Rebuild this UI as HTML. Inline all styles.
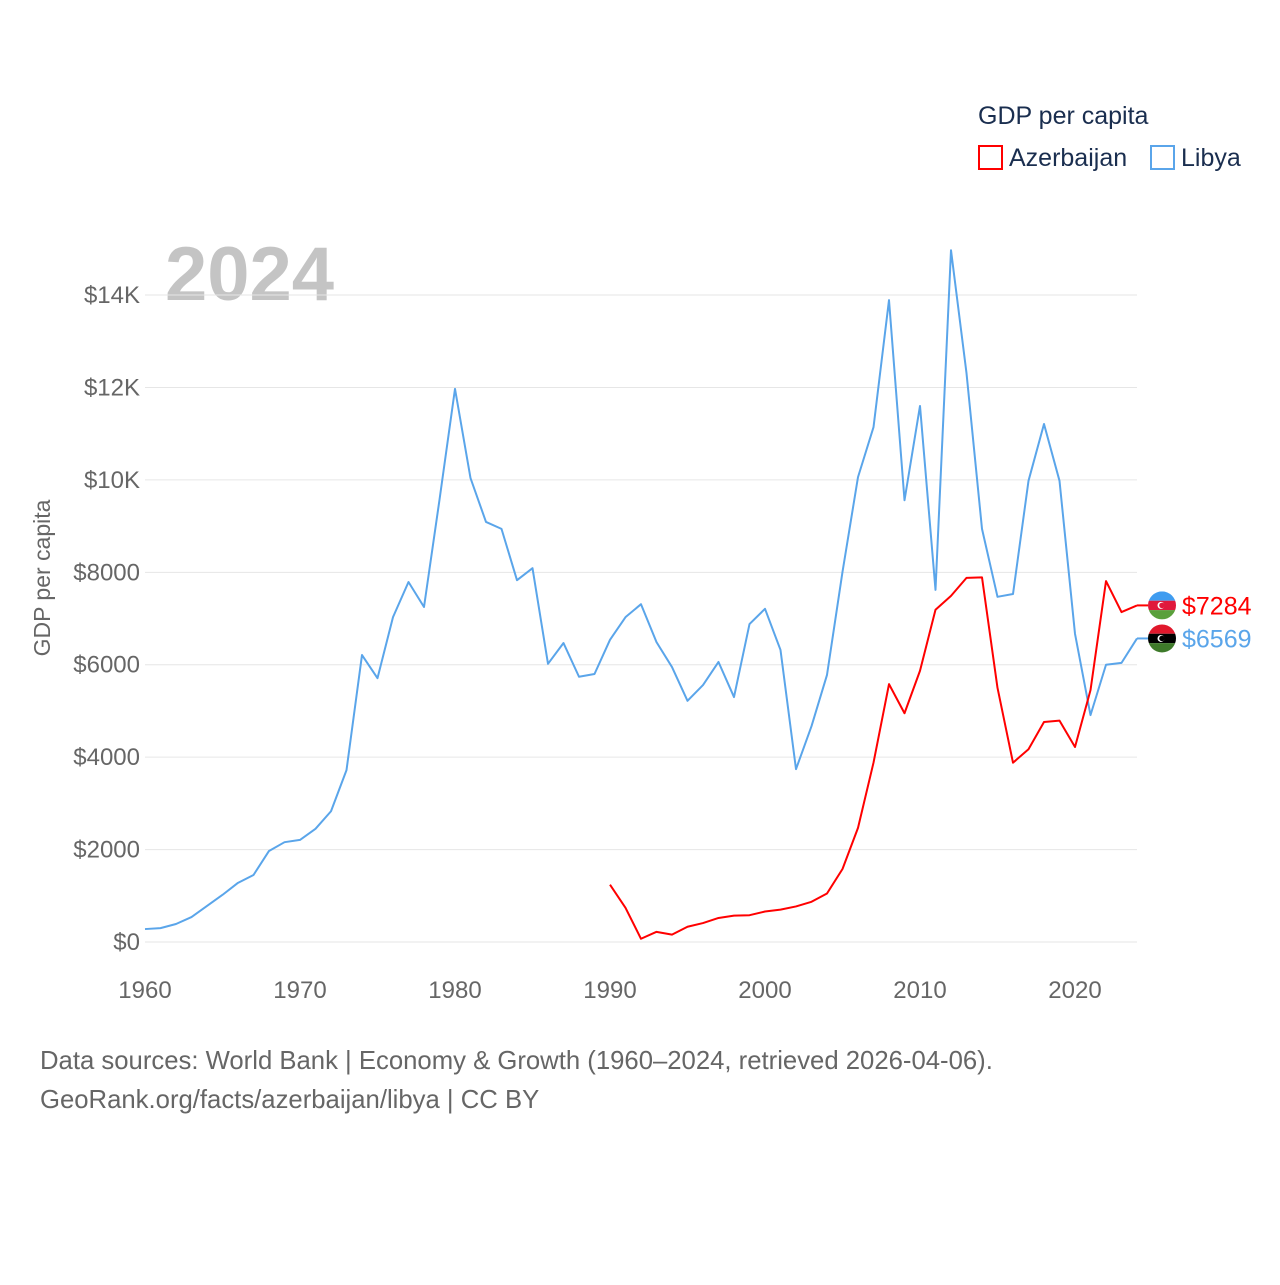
<!DOCTYPE html>
<html><head><meta charset="utf-8"><style>
body{margin:0;background:#fff;font-family:"Liberation Sans",sans-serif}
svg text{font-family:"Liberation Sans",sans-serif}
</style></head><body>
<svg id="c" width="1280" height="1280" viewBox="0 0 1280 1280">
<text x="978" y="124" font-size="25" fill="#1a2e4f">GDP per capita</text>
<rect x="979" y="146" width="23" height="23" fill="none" stroke="#f00" stroke-width="2"/>
<text x="1009" y="166" font-size="25" fill="#1a2e4f">Azerbaijan</text>
<rect x="1151" y="146" width="23" height="23" fill="none" stroke="#5aa5ea" stroke-width="2"/>
<text x="1181" y="166" font-size="25" fill="#1a2e4f">Libya</text>
<text x="165" y="300" font-size="76" font-weight="bold" fill="#c4c4c4">2024</text>
<text transform="translate(50,578) rotate(-90)" text-anchor="middle" font-size="23" fill="#666">GDP per capita</text>
<g id="grid"></g><g id="series"></g>
<text x="40" y="1069" font-size="25.7" fill="#666">Data sources: World Bank | Economy &amp; Growth (1960–2024, retrieved 2026-04-06).</text>
<text x="40" y="1108" font-size="25.7" fill="#666">GeoRank.org/facts/azerbaijan/libya | CC BY</text>
</svg>
<script>
const libyaYears=[];for(let y=1960;y<=2024;y++)libyaYears.push(y);
const libyaValues=[280,300,390,540,780,1020,1280,1450,1970,2160,2210,2450,2830,3720,6210,5710,7030,7790,7250,9570,11970,10040,9090,8940,7830,8090,6020,6470,5740,5800,6540,7030,7310,6490,5950,5220,5560,6060,5300,6880,7210,6320,3740,4670,5780,8010,10060,11140,13890,9560,11600,7620,14970,12310,8940,7470,7530,9980,11210,9980,6670,4910,6000,6040,6569];
const azYears=[];for(let y=1990;y<=2024;y++)azYears.push(y);
const azValues=[1240,740,70,220,160,330,410,520,570,580,660,700,770,870,1050,1580,2470,3880,5580,4950,5870,7190,7490,7880,7890,5500,3880,4170,4760,4790,4220,5450,7810,7140,7284];
const yTicks=[0,2000,4000,6000,8000,10000,12000,14000];
const yTickLabels=["$0","$2000","$4000","$6000","$8000","$10K","$12K","$14K"];
const xTicks=[1960,1970,1980,1990,2000,2010,2020];
const NS="http://www.w3.org/2000/svg";
const xs=y=>145+(y-1960)*15.5;
const ys=v=>942-v*0.04621;
function mk(tag,attrs,parent){const e=document.createElementNS(NS,tag);for(const k in attrs)e.setAttribute(k,attrs[k]);parent.appendChild(e);return e;}
const grid=document.getElementById('grid'),ser=document.getElementById('series');
yTicks.forEach((t,i)=>{
 const l=mk('line',{x1:145,x2:1137,y1:ys(t),y2:ys(t),stroke:'#e6e6e6','stroke-width':1},grid);
 
 
 const tx=mk('text',{x:140,y:ys(t)+8,'text-anchor':'end','font-size':24,fill:'#666'},grid);
 tx.textContent=yTickLabels[i];
 
 
});
xTicks.forEach(t=>{
 const tx=mk('text',{x:xs(t),y:998,'text-anchor':'middle','font-size':24,fill:'#666'},grid);
 tx.textContent=t;
 
 
});
function line(years,vals,color,name){
 const p=mk('polyline',{points:years.map((y,i)=>xs(y)+','+ys(vals[i])).join(' '),fill:'none',stroke:color,'stroke-width':2,'stroke-linejoin':'round'},ser);
 
 
}
line(libyaYears,libyaValues,'#5aa5ea','libya-line');
line(azYears,azValues,'#ff0000','azerbaijan-line');
function endLabel(val,color,name,flag){
 const y=ys(val);const cx=1162;
 const g=mk('g',{},ser);
 
 
 mk('line',{x1:1137,x2:1148,y1:y,y2:y,stroke:color,'stroke-width':2},g);
 const id='clip-'+name;
 const cp=mk('clipPath',{id:id},g);mk('circle',{cx:cx,cy:y,r:14},cp);
 const fg=mk('g',{'clip-path':'url(#'+id+')'},g);
 mk('rect',{x:cx-14,y:y-14,width:28,height:9.3,fill:flag[0]},fg);
 mk('rect',{x:cx-14,y:y-4.7,width:28,height:9.4,fill:flag[1]},fg);
 mk('rect',{x:cx-14,y:y+4.7,width:28,height:9.3,fill:flag[2]},fg);
 mk('circle',{cx:cx-1,cy:y,r:3.5,fill:'#fff'},fg);
 mk('circle',{cx:cx,cy:y,r:2.8,fill:flag[1]},fg);
 const t=mk('text',{x:1182,y:y+9,'font-size':25,fill:color},g);
 t.textContent='$'+val;
}
endLabel(azValues[azValues.length-1],'#ff0000','azerbaijan',['#3f9cf0','#e0183c','#5aa03c']);
endLabel(libyaValues[libyaValues.length-1],'#5aa5ea','libya',['#e0182c','#000','#3e7a2a']);
</script>
</body></html>
